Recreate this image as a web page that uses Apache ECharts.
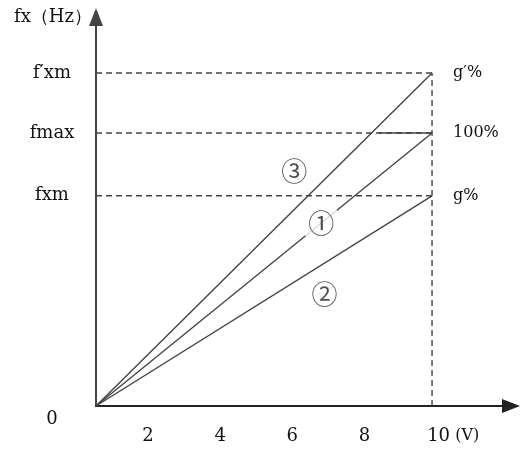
<!DOCTYPE html>
<html>
<head>
<meta charset="utf-8">
<script src="https://cdn.jsdelivr.net/npm/echarts@6/dist/echarts.min.js"></script>
<style>
  html, body { margin: 0; padding: 0; background: #fff; }
  #chart { width: 520px; height: 453px; }
</style>
</head>
<body>
<div id="chart"></div>
<script>
// frequency vs. analog input (0-10 V), gain curves
const lineNames = ['③', '①', '②']
const lineEnd = [122, 100, 77]          // value at 10 V
const endTexts = ['g′%', '100%', 'g%']
const xEnd = 10

const levelValues = [0, 77, 100, 122]
const levelNames = ['0', 'fxm', 'fmax', 'f′xm']

const xTicks = [2, 4, 6, 8, 10]

const markX = [5.9, 6.7, 6.8]
const markY = [86, 67, 41]
const markText = ['③', '①', '②']

const font = 'DejaVu Serif'
const ink = '#111'
const gray = '#444'

const chart = echarts.init(document.getElementById('chart'))

const series = []

// dashed guides: horizontals at each level and vertical at 10 V
levelValues.slice(1).forEach(v => {
  series.push({
    type: 'line', data: [[0, v], [xEnd, v]], symbol: 'none', silent: true,
    lineStyle: { color: gray, width: 1.4, type: [6, 4] }, z: 2
  })
})
series.push({
  type: 'line', data: [[xEnd, 0], [xEnd, lineEnd[0]]], symbol: 'none', silent: true,
  lineStyle: { color: gray, width: 1.4, type: [6, 4] }, z: 2
})
// solid piece of the fmax line near 10 V
series.push({
  type: 'line', data: [[8.4, 100], [xEnd, 100]], symbol: 'none', silent: true,
  lineStyle: { color: gray, width: 1.4 }, z: 3
})

// the three curves
lineNames.forEach((name, i) => {
  series.push({
    name: name, type: 'line', symbol: 'none', silent: true,
    data: [[0, 0], [xEnd, lineEnd[i]]],
    lineStyle: { color: gray, width: 1.4 }, z: 3,
    endLabel: {
      show: true, formatter: endTexts[i], distance: 21,
      fontFamily: font, fontSize: 16, color: ink
    }
  })
})

// circled markers
series.push({
  type: 'scatter', symbolSize: 0, silent: true, z: 5,
  data: markX.map((x, i) => ({ value: [x, markY[i]], name: markText[i] })),
  label: {
    show: true, position: 'inside', formatter: p => p.name,
    fontFamily: 'Noto Sans CJK SC', fontSize: 26, color: '#222',
    backgroundColor: '#fff', padding: [0, 3]
  }
})

chart.setOption({
  animation: false,
  grid: { left: 96, top: 17, width: 415, height: 389 },
  xAxis: [
    {
      type: 'value', min: 0, max: 12.35,
      axisLine: { onZero: false, lineStyle: { color: '#222', width: 2 }, symbol: ['none', 'triangle'], symbolSize: [14, 18] },
      axisTick: { show: false }, axisLabel: { show: false }, splitLine: { show: false }
    },
    {
      // label axis: tick labels as printed under the axis
      type: 'value', min: 0.56, max: 12.06, position: 'bottom',
      axisLine: { show: false }, axisTick: { show: false }, splitLine: { show: false },
      axisLabel: {
        customValues: xTicks, margin: 21,
        fontFamily: font, fontSize: 18, color: ink,
        formatter: v => v === 10 ? '{n|10}{u| (V)}' : String(v),
        rich: {
          n: { fontFamily: font, fontSize: 18, color: ink, padding: [0, 0, 0, 33] },
          u: { fontFamily: font, fontSize: 16, color: ink }
        }
      }
    }
  ],
  yAxis: {
    type: 'value', min: 0, max: 142.5,
    name: 'fx（Hz）', nameLocation: 'end', nameGap: 0,
    nameTextStyle: { fontFamily: font, fontSize: 18, color: ink, align: 'right', verticalAlign: 'middle', padding: [0, 4, 0, 0] },
    axisLine: { onZero: false, lineStyle: { color: '#444', width: 2 }, symbol: ['none', 'triangle'], symbolSize: [14, 18] },
    axisTick: { show: false }, splitLine: { show: false },
    axisLabel: {
      customValues: levelValues, margin: 44, align: 'center',
      fontFamily: font, fontSize: 18, color: ink,
      formatter: v => v === 0 ? '{z|0}' : levelNames[levelValues.indexOf(v)],
      rich: { z: { fontFamily: font, fontSize: 18, color: ink, padding: [26, 0, 0, 0] } }
    }
  },
  series: series
})
</script>
</body>
</html>
